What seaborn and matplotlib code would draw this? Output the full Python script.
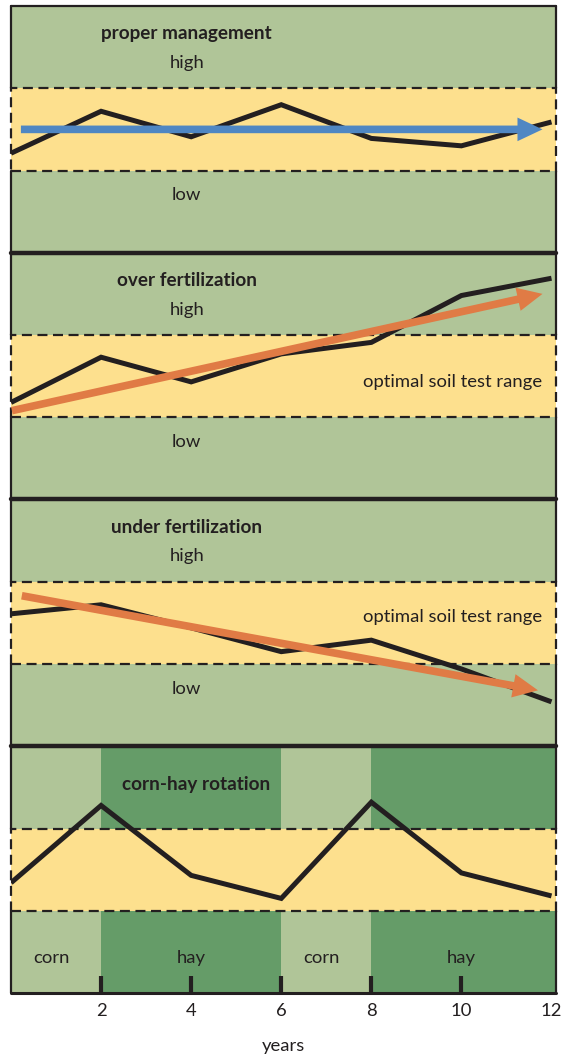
import matplotlib
matplotlib.use("Agg")
import matplotlib.pyplot as plt
import seaborn as sns

# ---- data -------------------------------------------------------------
years = [0, 2, 4, 6, 8, 10, 12]
proper_management = [1.21, 1.72, 1.41, 1.80, 1.39, 1.30, 1.59]
over_fertilization = [1.18, 1.73, 1.43, 1.77, 1.91, 2.48, 2.69]
under_fertilization = [1.61, 1.72, 1.44, 1.15, 1.29, 0.94, 0.54]
corn_hay_rotation = [1.34, 2.28, 1.43, 1.15, 2.32, 1.46, 1.18]

# trend arrows: (x_start, y_start, x_end, y_end)
trend_proper = (0.22, 1.50, 11.8, 1.50)
trend_over = (0.02, 1.08, 11.8, 2.50)
trend_under = (0.24, 1.83, 11.7, 0.68)

crops = ["corn", "hay", "corn", "hay"]
crop_start = [0, 2, 6, 8]
crop_end = [2, 6, 8, 12.1]

tick_years = [2, 4, 6, 8, 10, 12]
tick_labels = ["2", "4", "6", "8", "10", "12"]

# ---- style ------------------------------------------------------------
sns.set_style("white")
plt.rcParams["font.family"] = ["Lato", "DejaVu Sans"]

INK = "#231f20"
LIGHT_GREEN = "#b0c598"
DARK_GREEN = "#659c68"
YELLOW = "#fde08e"
BLUE = "#4f87c3"
ORANGE = "#e07b45"
XMAX = 12.1
FS = 13.3
FS_TITLE = 13.6

fig = plt.figure(figsize=(5.67, 10.59), dpi=100)
axes = fig.subplots(4, 1, sharex=True, gridspec_kw=dict(hspace=0))
fig.subplots_adjust(left=11 / 567, right=556 / 567, top=1 - 6 / 1059, bottom=1 - 993 / 1059)

panels = [
    ("proper management", proper_management, trend_proper, BLUE, False),
    ("over fertilization", over_fertilization, trend_over, ORANGE, True),
    ("under fertilization", under_fertilization, trend_under, ORANGE, True),
    ("corn-hay rotation", corn_hay_rotation, None, None, False),
]

for i, (ax, (title, values, trend, tcolor, show_range)) in enumerate(zip(axes, panels)):
    ax.set_xlim(0, XMAX)
    ax.set_ylim(0, 3)
    ax.set_facecolor(LIGHT_GREEN)
    for sp in ax.spines.values():
        sp.set_visible(False)
    ax.set_yticks([])

    if i == 3:
        for s, e in zip(crop_start, crop_end):
            ax.axvspan(s, e, color=LIGHT_GREEN if s in (0, 6) else DARK_GREEN, lw=0, zorder=0)

    # optimal soil test range band
    ax.axhspan(1, 2, facecolor=YELLOW, edgecolor=INK, lw=1.6,
               linestyle=(0, (4.5, 2.5)), zorder=1, clip_on=False)

    # frame: solid beside the green bands
    for xv in (0, XMAX):
        ax.axvline(xv, 0, 1 / 3, color=INK, lw=1.6, clip_on=False, zorder=5)
        ax.axvline(xv, 2 / 3, 1, color=INK, lw=1.6, clip_on=False, zorder=5)
    ax.axhline(3, color=INK, lw=1.6 if i == 0 else 3.2, clip_on=False, zorder=5)
    if i == 3:
        ax.axhline(0, color=INK, lw=2.2, clip_on=False, zorder=5)

    sns.lineplot(x=years, y=values, ax=ax, color=INK, lw=3.6, zorder=3,
                 solid_joinstyle="miter", solid_capstyle="butt")

    if trend is not None:
        x0, y0, x1, y1 = trend
        ax.annotate("", xy=(x1, y1), xytext=(x0, y0), zorder=4,
                    arrowprops=dict(arrowstyle="simple,head_length=1.8,head_width=1.7,tail_width=0.55",
                                    mutation_scale=10, color=tcolor, lw=0,
                                    shrinkA=0, shrinkB=0))

    if i < 3:
        ax.text(3.9, 2.66, title, ha="center", va="center", fontsize=FS_TITLE, fontweight="bold", color=INK)
        ax.text(3.9, 2.31, "high", ha="center", va="center", fontsize=FS, color=INK)
        ax.text(3.9, 0.70, "low", ha="center", va="center", fontsize=FS, color=INK)
        if show_range:
            ax.text(11.8, 1.43 if i == 1 else 1.57, "optimal soil test range",
                    ha="right", va="center", fontsize=FS, color=INK)
    else:
        ax.text(4.1, 2.54, title, ha="center", va="center", fontsize=FS_TITLE, fontweight="bold", color=INK)
        for name, s, e in zip(crops, crop_start, crop_end):
            ax.text((s + min(e, 12)) / 2 - (0.1 if name == "corn" else 0), 0.43, name,
                    ha="center", va="center", fontsize=FS, color=INK)

    ax.tick_params(axis="x", bottom=False, labelbottom=False)

ax = axes[3]
ax.set_xticks(tick_years)
ax.set_xticklabels(tick_labels)
ax.tick_params(axis="x", bottom=True, labelbottom=True, direction="in", length=12,
               width=3, color=INK, labelsize=FS, labelcolor=INK, pad=7)
# the last tick sits on the frame, so only its label is shown
ax.xaxis.get_major_ticks()[-1].tick1line.set_visible(False)
ax.set_xlabel("years", fontsize=FS, color=INK, labelpad=14)

fig.savefig("out.png", dpi=100)
